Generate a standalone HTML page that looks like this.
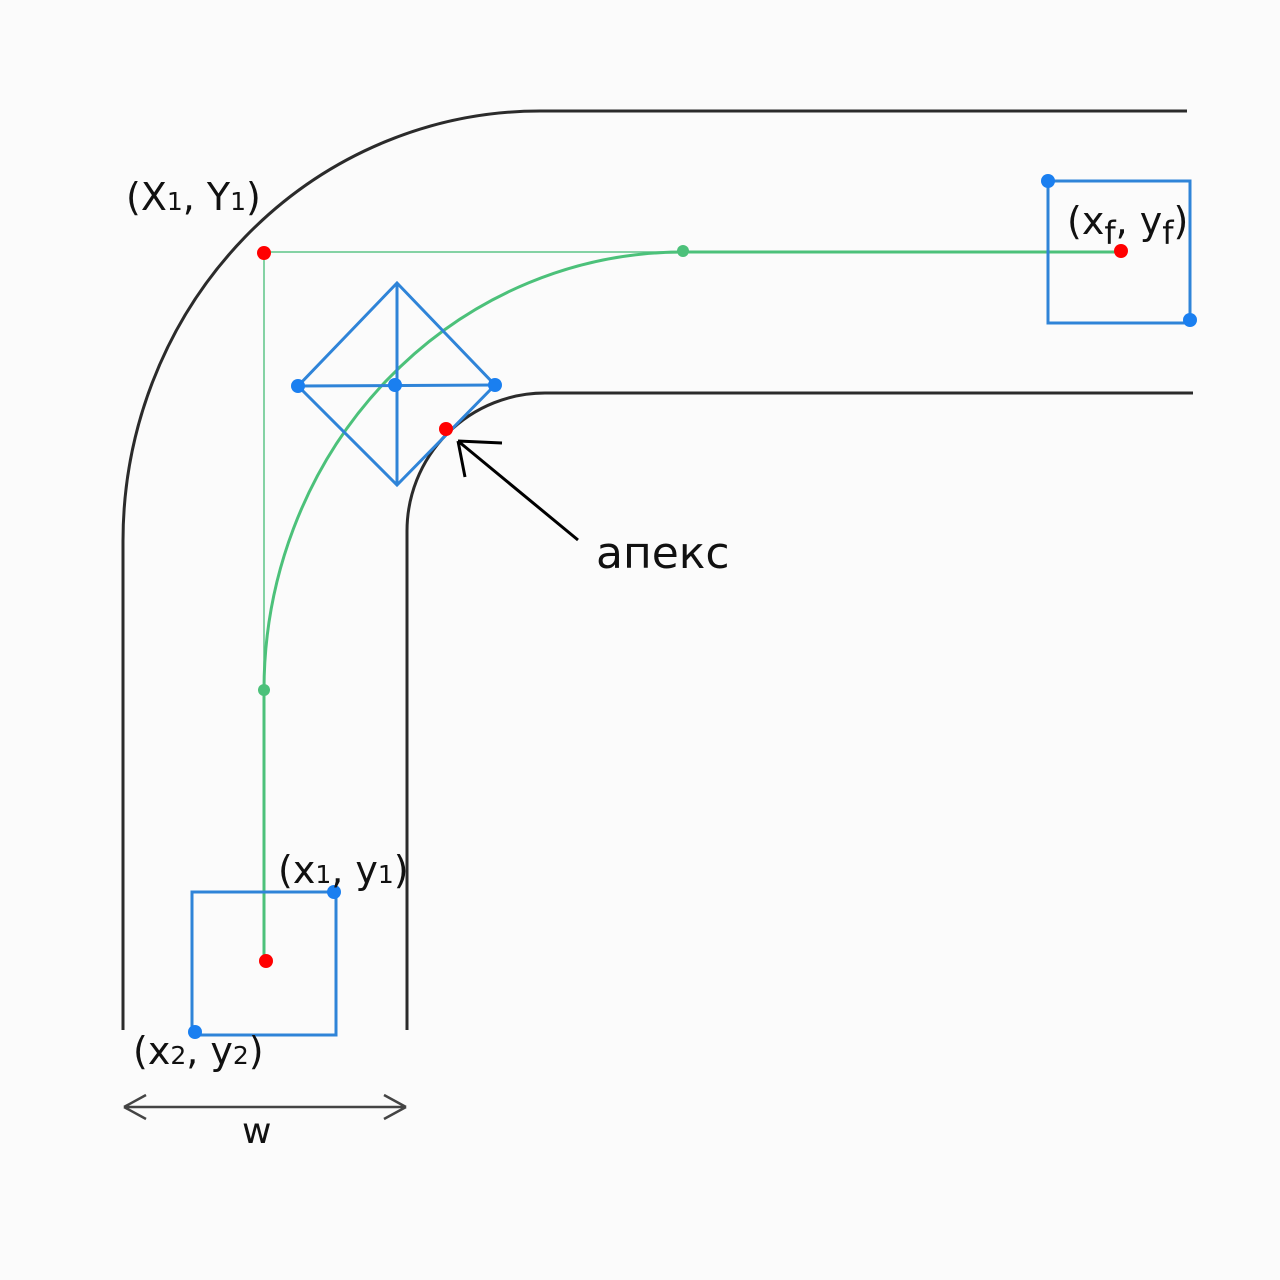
<!DOCTYPE html>
<html><head><meta charset="utf-8"><style>
html,body{margin:0;padding:0;background:#fbfbfb;}
svg{display:block}
text{font-family:"DejaVu Sans","Liberation Sans",sans-serif;fill:#111}
</style></head><body>
<svg width="1280" height="1280" viewBox="0 0 1280 1280" xmlns="http://www.w3.org/2000/svg">
<rect width="1280" height="1280" fill="#fbfbfb"/>
<path d="M1187 111 L540 111 A417 430 0 0 0 123 541 L123 1030" fill="none" stroke="#2b2b2b" stroke-width="3"/>
<path d="M1193 393 L545 393 A138 138 0 0 0 407 531 L407 1030" fill="none" stroke="#2b2b2b" stroke-width="3"/>
<path d="M264 690 L264 252 L683 252" fill="none" stroke="#5cc488" stroke-width="1.5"/>
<path d="M264 960 L264 690 A419 438 0 0 1 683 252 L1120 252" fill="none" stroke="#4cc17a" stroke-width="3"/>
<circle cx="264" cy="690" r="6" fill="#4cc17a"/>
<circle cx="683" cy="251" r="6" fill="#4cc17a"/>
<g stroke="#2f84d8" stroke-width="3" fill="none">
<path d="M397 283 L495 385 L397 485 L298 386 Z"/>
<path d="M397 283 L397 485 M298 386 L495 385"/>
<rect x="192" y="892" width="144" height="143"/>
<rect x="1048" y="181" width="142" height="142"/>
</g>
<g fill="#1a7ff0">
<circle cx="298" cy="386" r="7"/><circle cx="395" cy="385" r="7"/><circle cx="495" cy="385" r="7"/>
<circle cx="334" cy="892" r="7"/><circle cx="195" cy="1032" r="7"/>
<circle cx="1048" cy="181" r="7"/><circle cx="1190" cy="320" r="7"/>
</g>
<g fill="#f00">
<circle cx="264" cy="253" r="7"/><circle cx="446" cy="429" r="7"/>
<circle cx="266" cy="961" r="7"/><circle cx="1121" cy="251" r="7"/>
</g>
<path d="M578 540 L458 441 M458 441 L502 443 M458 441 L465 477" stroke="#000" stroke-width="3" fill="none"/>
<text x="596" y="568" font-size="44">апекс</text>
<path d="M124 1107 L406 1107 M124 1107 L146 1095 M124 1107 L146 1119 M406 1107 L384 1095 M406 1107 L384 1119" stroke="#444" stroke-width="2.5" fill="none"/>
<text x="242" y="1143" font-size="36">w</text>
<text x="126" y="210" font-size="38">(X<tspan font-size="25">1</tspan>, Y<tspan font-size="25">1</tspan>)</text>
<text x="278" y="883" font-size="38">(x<tspan font-size="25">1</tspan>, y<tspan font-size="25">1</tspan>)</text>
<text x="133" y="1064" font-size="38">(x<tspan font-size="25">2</tspan>, y<tspan font-size="25">2</tspan>)</text>
<text x="1067" y="234" font-size="38">(x<tspan font-size="32" dy="10">f</tspan><tspan dy="-10">, y</tspan><tspan font-size="32" dy="10">f</tspan><tspan dy="-10">)</tspan></text>
</svg>
</body></html>
